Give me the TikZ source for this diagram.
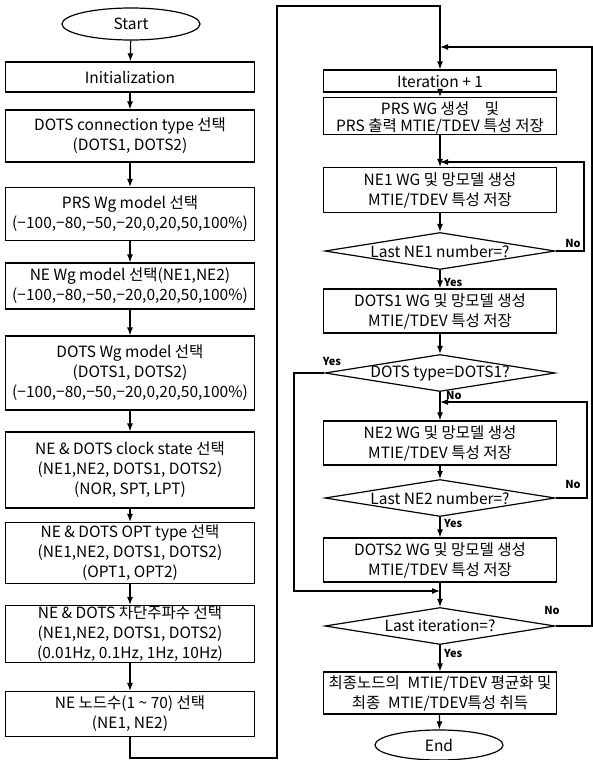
\documentclass[tikz,border=0pt]{standalone}
\usepackage{fontspec}
\setmainfont{Noto Sans CJK KR}
\usetikzlibrary{positioning, arrows.meta, shapes.geometric}

\begin{document}
\begin{tikzpicture}[x=1pt, y=-1pt,
  b/.style={draw, line width=1.2pt, minimum width=249pt, inner sep=0pt, align=center, font=\fontsize{15.5}{20}\selectfont},
  r/.style={b, minimum width=233pt},
  t/.style={draw, ellipse, line width=1.2pt, inner sep=0pt, font=\fontsize{15.5}{20}\selectfont},
  q/.style={draw, diamond, line width=1.2pt, aspect=6.2, inner xsep=-14pt, inner ysep=0pt, minimum width=230pt, minimum height=37pt, font=\fontsize{15.5}{20}\selectfont},
  a/.style={line width=1.2pt, -{Latex[length=8pt,width=6pt]}},
  yn/.style={inner sep=0pt, font=\fontsize{11}{12}\selectfont\bfseries}]
\useasboundingbox (0,0) rectangle (593,760);
% left column
\node[t, minimum width=138pt, minimum height=32pt] (start) at (131,24) {Start};
\node[b, minimum height=30pt] (init) at (130,77) {Initialization};
\node[b, minimum height=52pt] (conn) at (130,136) {DOTS connection type 선택\\(DOTS1, DOTS2)};
\node[b, minimum height=53pt] (prs) at (130,214) {PRS Wg model 선택\\(−100,−80,−50,−20,0,20,50,100\%)};
\node[b, minimum height=46pt] (newg) at (130,286) {NE Wg model 선택(NE1,NE2)\\(−100,−80,−50,−20,0,20,50,100\%)};
\node[b, minimum height=74pt] (dotswg) at (130,373) {DOTS Wg model 선택\\(DOTS1, DOTS2)\\(−100,−80,−50,−20,0,20,50,100\%)};
\node[b, minimum height=76pt] (clk) at (130,470) {NE \& DOTS clock state 선택\\(NE1,NE2, DOTS1, DOTS2)\\(NOR, SPT, LPT)};
\node[b, minimum height=61pt] (opt) at (130,553) {NE \& DOTS OPT type 선택\\(NE1,NE2, DOTS1, DOTS2)\\(OPT1, OPT2)};
\node[b, minimum height=57pt] (freq) at (130,634) {NE \& DOTS 차단주파수 선택\\(NE1,NE2, DOTS1, DOTS2)\\(0.01Hz, 0.1Hz, 1Hz, 10Hz)};
\node[b, minimum height=45pt] (nodes) at (130,714) {NE 노드수(1 \textasciitilde{} 70) 선택\\(NE1, NE2)};
\draw[a] (start) -- (init);
\draw[a] (init) -- (conn);
\draw[a] (conn) -- (prs);
\draw[a] (prs) -- (newg);
\draw[a] (newg) -- (dotswg);
\draw[a] (dotswg) -- (clk);
\draw[a] (clk) -- (opt);
\draw[a] (opt) -- (freq);
\draw[a] (freq) -- (nodes);
% right column
\node[r, minimum height=22pt] (iter) at (440,81) {\rule{0pt}{14pt}Iteration + 1};
\node[r, minimum height=37pt, font=\fontsize{15.5}{16.5}\selectfont] (prs2) at (440,116) {\rule{0pt}{17pt}PRS WG 생성\quad 및\\PRS 출력 MTIE/TDEV 특성 저장};
\node[r, minimum height=45pt] (ne1) at (440,190) {NE1 WG 및 망모델 생성\\MTIE/TDEV 특성 저장};
\node[q] (d1) at (440,251) {Last NE1 number=?};
\node[r, minimum height=44pt] (dots1) at (440,311) {DOTS1 WG 및 망모델 생성\\MTIE/TDEV 특성 저장};
\node[q] (d2) at (440,373) {DOTS type=DOTS1?};
\node[r, minimum height=44pt] (ne2) at (440,443) {NE2 WG 및 망모델 생성\\MTIE/TDEV 특성 저장};
\node[q] (d3) at (440,498) {Last NE2 number=?};
\node[r, minimum height=44pt] (dots2) at (440,560) {DOTS2 WG 및 망모델 생성\\MTIE/TDEV 특성 저장};
\node[q] (d4) at (440,626) {Last iteration=?};
\node[r, minimum height=42pt] (final) at (440,693) {최종노드의\enspace MTIE/TDEV 평균화 및\\최종\enspace MTIE/TDEV특성 취득};
\node[t, minimum width=128pt, minimum height=30pt] (end) at (439,745) {End};
\coordinate (c1) at (130,758);
\coordinate (c2) at (277,6);
\coordinate (j0) at (440,47);
\coordinate (j1) at (440,162);
\coordinate (j3) at (440,402);
\coordinate (j4) at (440,591);
\coordinate (k1) at (584,162);
\coordinate (k3) at (587,402);
\coordinate (k4) at (592,47);
\coordinate (y1) at (294,591);
\draw[a] (nodes) -- (c1) -| (c2) -| (iter.north);
\draw[a] (iter) -- (prs2);
\draw[a] (prs2) -- (ne1);
\draw[a] (ne1) -- (d1);
\draw[a] (d1) -- (dots1);
\draw[a] (dots1) -- (d2);
\draw[a] (d2) -- (ne2);
\draw[a] (ne2) -- (d3);
\draw[a] (d3) -- (dots2);
\draw[a] (dots2) -- (d4);
\draw[a] (d4) -- (final);
\draw[a] (final) -- (end);
\draw[a] (d1.east) -| (k1) -- (j1);
\draw[a] (d3.east) -| (k3) -- (j3);
\draw[a] (d2.west) -| (y1) -- (j4);
\draw[a] (d4.east) -| (k4) -- (j0);
% yes / no
\node[yn] (no1) at (573,243) {No};
\node[yn, anchor=west] (yes1) at (444,282) {Yes};
\node[yn] (yes2) at (332,361) {Yes};
\node[yn, anchor=west] (no2) at (446,395) {No};
\node[yn] (no3) at (573,484) {No};
\node[yn, anchor=west] (yes3) at (444,523) {Yes};
\node[yn] (no4) at (552,610) {No};
\node[yn, anchor=west] (yes4) at (444,653) {Yes};
\end{tikzpicture}
\end{document}
